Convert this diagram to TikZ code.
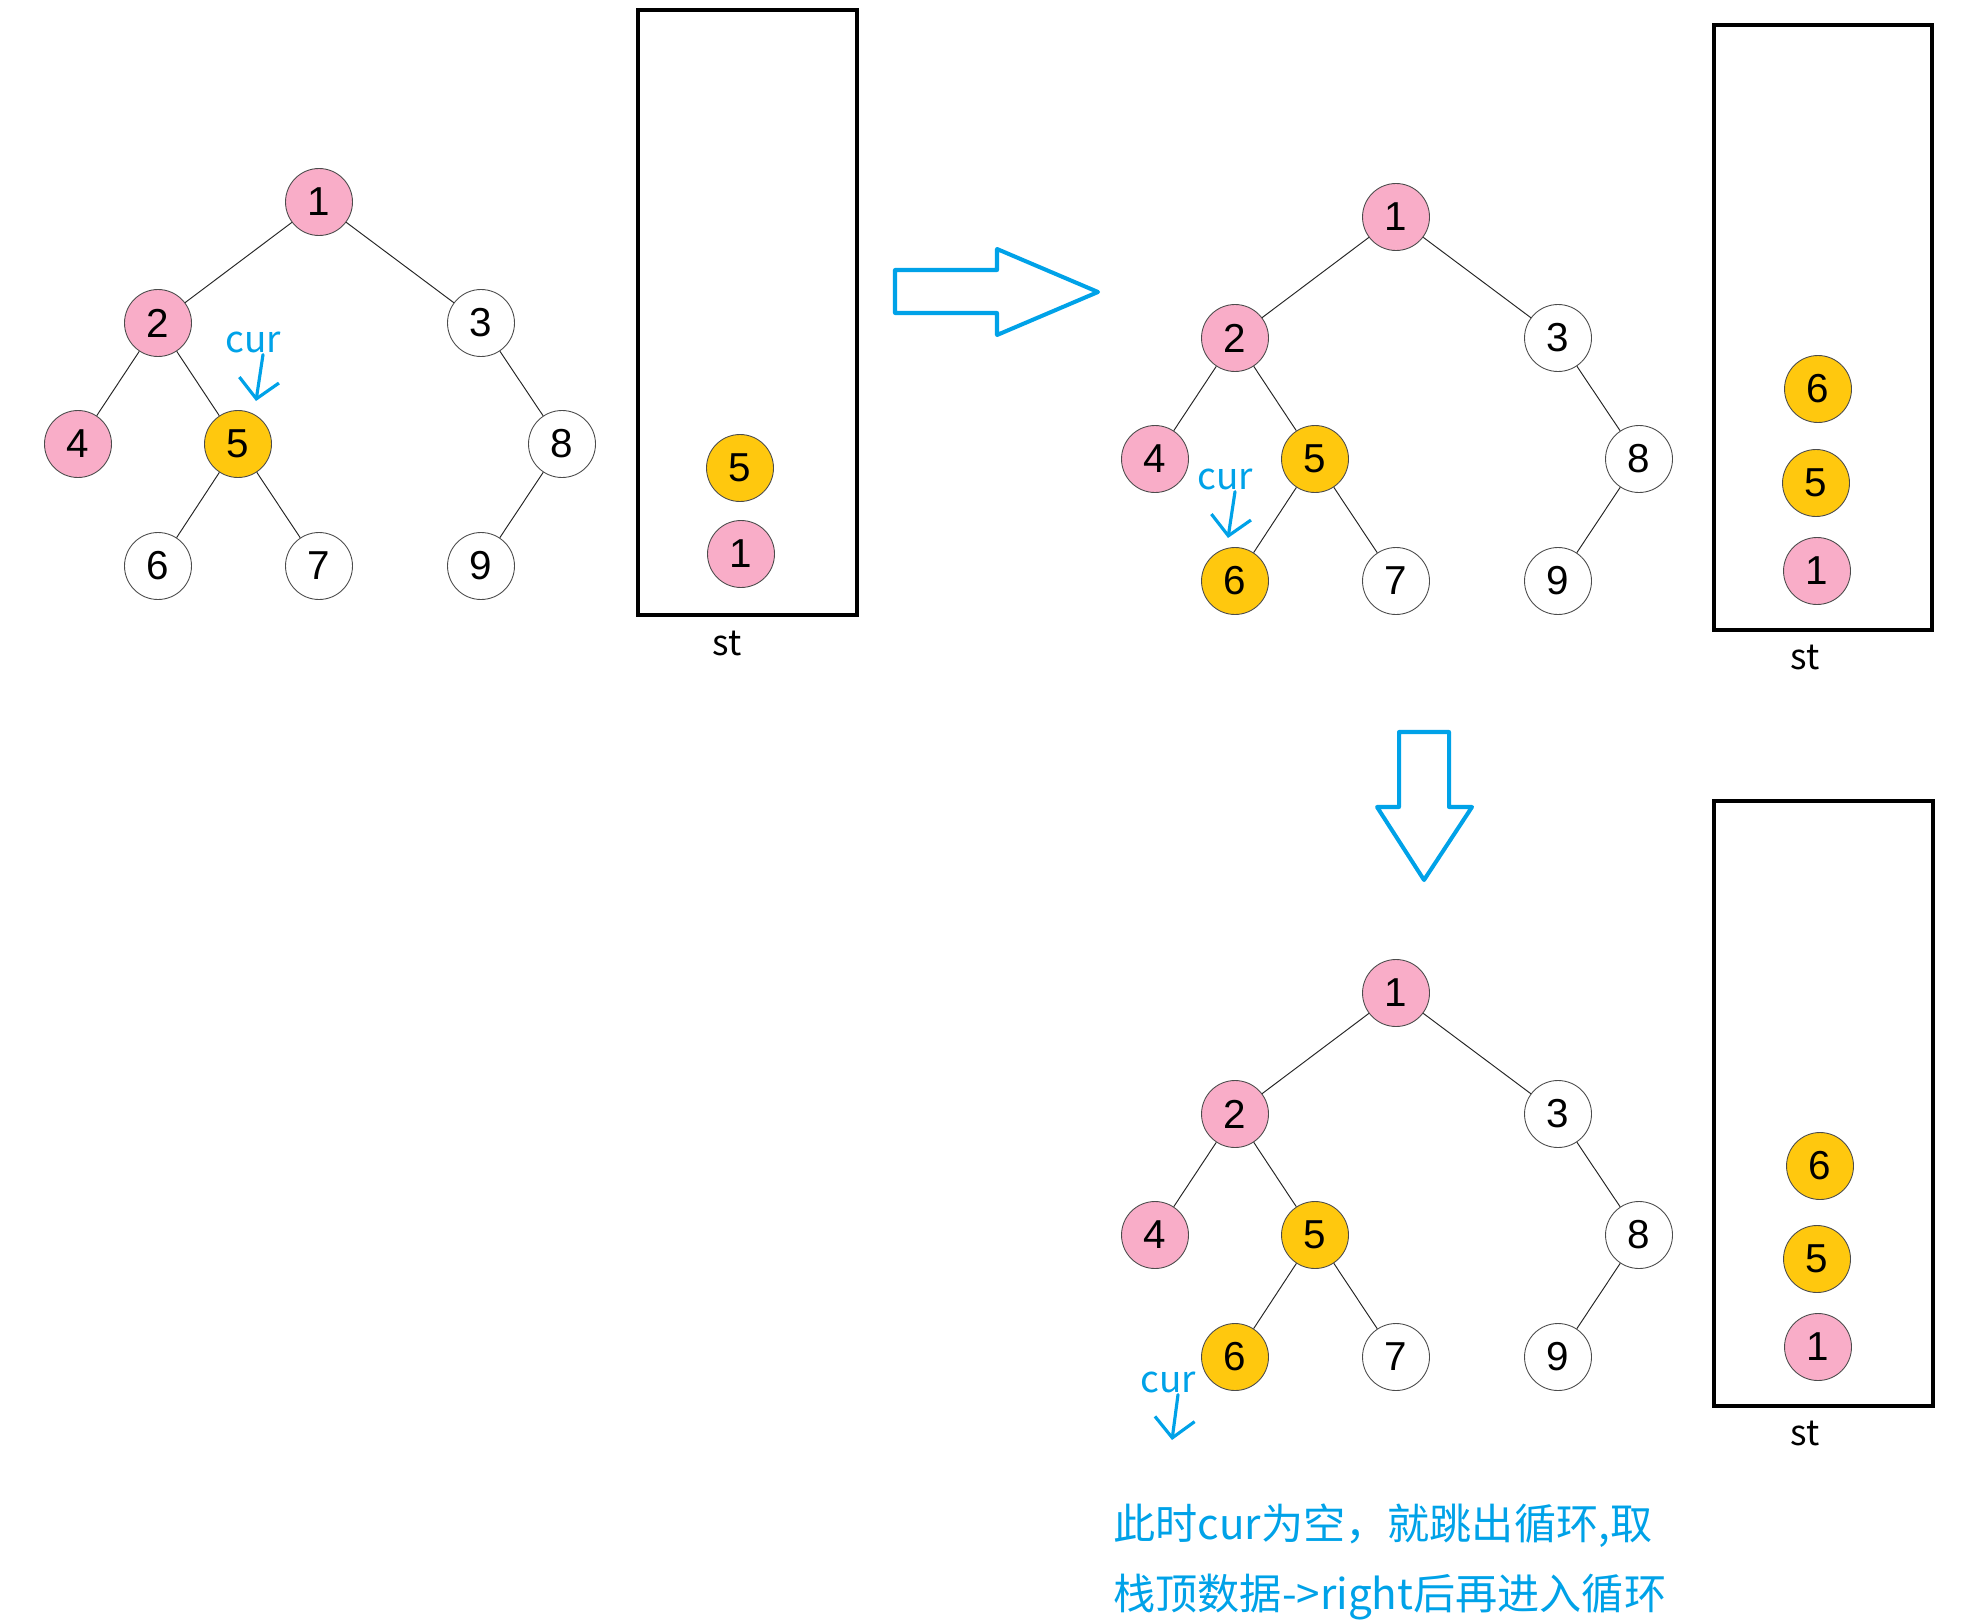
\documentclass[tikz,border=0pt]{standalone}
\usepackage{fontspec}
\setmainfont{Liberation Sans}
\newfontfamily\cjkfont{Noto Sans CJK SC}
\usetikzlibrary{arrows.meta}

\definecolor{nodepink}{RGB}{249,173,200}
\definecolor{nodegold}{RGB}{255,200,14}
\definecolor{markblue}{RGB}{0,162,232}

\tikzset{
	tnode/.style={circle, draw=black!70, line width=0.5pt, minimum size=1.34cm, inner sep=0pt, font=\fontsize{23}{23}\selectfont},
	pinknode/.style={tnode, fill=nodepink},
	goldnode/.style={tnode, fill=nodegold},
	whitenode/.style={tnode, fill=white},
	treeline/.style={black!85, line width=0.55pt},
	stackbox/.style={draw, line width=2.8pt},
	stlabel/.style={font=\cjkfont\fontsize{20}{20}\selectfont},
	curlabel/.style={text=markblue, inner sep=1pt, font=\cjkfont\fontsize{21}{21}\selectfont},
	curarrow/.style={markblue, line width=1.8pt, line cap=round, -{Straight Barb[length=0.38cm, width=0.8cm, line width=1.8pt]}},
	bigarrow/.style={draw=markblue, line width=2.3pt, line join=round},
	notetext/.style={text=markblue, inner sep=0pt, align=left, font=\cjkfont\fontsize{24}{40}\selectfont}
}

% one tree: #1 name prefix, #2 root position, #3 style of node 6
\newcommand\bintree[3]{%
	\begin{scope}[shift={#2}]
		\node [pinknode] (#1n1) at (0, 0) {1};
		\node [pinknode] (#1n2) at (-161, 121) {2};
		\node [whitenode] (#1n3) at (162, 121) {3};
		\node [pinknode] (#1n4) at (-241, 242) {4};
		\node [goldnode] (#1n5) at (-81, 242) {5};
		\node [whitenode] (#1n8) at (243, 242) {8};
		\node [#3] (#1n6) at (-161, 364) {6};
		\node [whitenode] (#1n7) at (0, 364) {7};
		\node [whitenode] (#1n9) at (162, 364) {9};
	\end{scope}
	\draw [treeline] (#1n1) -- (#1n2) (#1n1) -- (#1n3) (#1n2) -- (#1n4) (#1n2) -- (#1n5)
		(#1n5) -- (#1n6) (#1n5) -- (#1n7) (#1n3) -- (#1n8) (#1n8) -- (#1n9);
}

\begin{document}
\begin{tikzpicture}[x=0.02cm, y=-0.02cm]
		\useasboundingbox (0, 0) rectangle (1976, 1622);

		% first state: cur on 5
		\bintree{a}{(319, 202)}{whitenode}
		\node [curlabel] (cura) at (253, 342) {cur};
		\coordinate (curatip) at (256, 401);
		\draw [curarrow] ([xshift=0.2cm]cura.south) -- (curatip);

		\draw [stackbox] (638, 10) rectangle (857, 615);
		\node [goldnode] (sa5) at (740, 468) {5};
		\node [pinknode] (sa1) at (741, 554) {1};
		\node [stlabel] (sta) at (727, 643) {st};

		% step arrow to the right
		\draw [bigarrow] (895, 270) -- (997, 270) -- (997, 249) -- (1098, 292) -- (997, 335) -- (997, 313) -- (895, 313) -- cycle;

		% second state: cur on 6
		\bintree{b}{(1396, 217)}{goldnode}
		\node [curlabel] (curb) at (1225, 479) {cur};
		\coordinate (curbtip) at (1228, 538);
		\draw [curarrow] ([xshift=0.2cm]curb.south) -- (curbtip);

		\draw [stackbox] (1714, 25) rectangle (1932, 630);
		\node [goldnode] (sb6) at (1818, 389) {6};
		\node [goldnode] (sb5) at (1816, 483) {5};
		\node [pinknode] (sb1) at (1817, 571) {1};
		\node [stlabel] (stb) at (1805, 657) {st};

		% step arrow down
		\draw [bigarrow] (1399, 732) -- (1449, 732) -- (1449, 807) -- (1472, 807) -- (1424, 880) -- (1377, 807) -- (1399, 807) -- cycle;

		% third state: cur is empty
		\bintree{c}{(1396, 993)}{goldnode}
		\node [curlabel] (curc) at (1168, 1382) {cur};
		\coordinate (curctip) at (1172, 1440);
		\draw [curarrow] ([xshift=0.2cm]curc.south) -- (curctip);

		\draw [stackbox] (1714, 801) rectangle (1933, 1406);
		\node [goldnode] (sc6) at (1820, 1166) {6};
		\node [goldnode] (sc5) at (1817, 1259) {5};
		\node [pinknode] (sc1) at (1818, 1347) {1};
		\node [stlabel] (stc) at (1805, 1433) {st};

		\node [notetext, anchor=west] (note) at (1113, 1562) {此时cur为空，就跳出循环,取\\栈顶数据->right后再进入循环};
	\end{tikzpicture}
\end{document}
